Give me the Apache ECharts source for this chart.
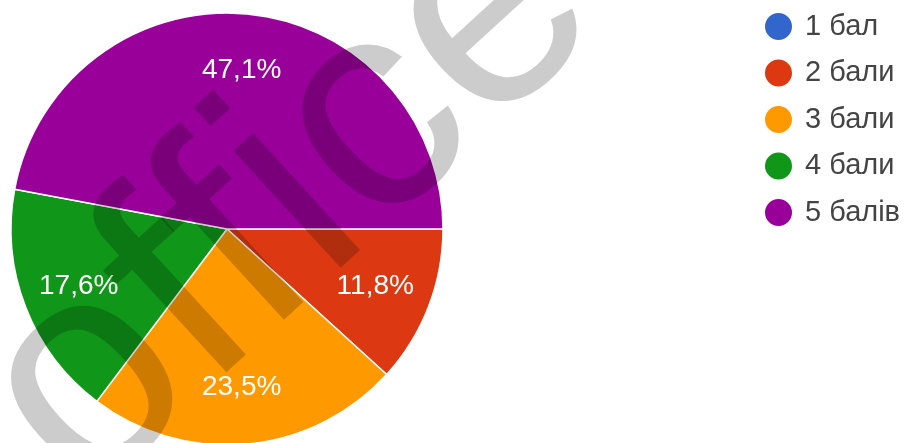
<!DOCTYPE html>
<html>
<head>
<meta charset="utf-8">
<script src="https://cdn.jsdelivr.net/npm/echarts@6/dist/echarts.min.js"></script>
<style>
  html, body { margin: 0; padding: 0; background: #fff; }
  #main { width: 905px; height: 443px; }
</style>
</head>
<body>
<div id="main"></div>
<script>
const categories = ['1 бал', '2 бали', '3 бали', '4 бали', '5 балів']
const counts = [0, 2, 4, 3, 8]
const colors = ['#3366cc', '#dc3912', '#ff9900', '#109618', '#990099']

const font = 'Arial, "Liberation Sans", sans-serif'
const chart = echarts.init(document.getElementById('main'))

const pieData = categories.map((name, i) => ({
  name: name,
  value: counts[i],
  itemStyle: { color: colors[i] }
}))

const option = {
  animation: false,
  legend: {
    orient: 'vertical',
    left: 758,
    top: 6,
    icon: 'circle',
    itemWidth: 29,
    itemHeight: 29,
    itemGap: 15.5,
    textStyle: {
      fontSize: 29,
      lineHeight: 30,
      color: '#444',
      fontFamily: font,
      padding: [0, 0, 0, 7]
    },
    data: categories.map((name, i) => ({ name: name, itemStyle: { color: colors[i] } }))
  },
  series: [
    // сам пиріг
    {
      type: 'pie',
      center: [227, 229],
      radius: 216,
      startAngle: 0,
      clockwise: true,
      silent: true,
      label: { show: false },
      labelLine: { show: false },
      itemStyle: { borderColor: '#fff', borderWidth: 1.5 },
      data: pieData
    },
    // тільки підписи, трохи далі від центру
    {
      type: 'pie',
      center: [227, 229],
      radius: 312,
      startAngle: 0,
      clockwise: true,
      silent: true,
      percentPrecision: 1,
      itemStyle: { color: 'transparent' },
      label: {
        show: true,
        position: 'inside',
        color: '#fff',
        fontSize: 28,
        fontFamily: font,
        formatter: function (p) {
          return p.value ? String(p.percent.toFixed(1)).replace('.', ',') + '%' : ''
        }
      },
      labelLine: { show: false },
      data: categories.map((name, i) => ({ name: name, value: counts[i] }))
    }
  ],
  graphic: [
    {
      // водяний знак
      type: 'text',
      z: 100,
      silent: true,
      x: 28,
      y: 442,
      rotation: 42.5 * Math.PI / 180,
      style: {
        text: 'office',
        fill: 'rgba(0,0,0,0.2)',
        font: '300px ' + font,
        align: 'left',
        verticalAlign: 'middle'
      }
    }
  ]
}

chart.setOption(option)
</script>
</body>
</html>
